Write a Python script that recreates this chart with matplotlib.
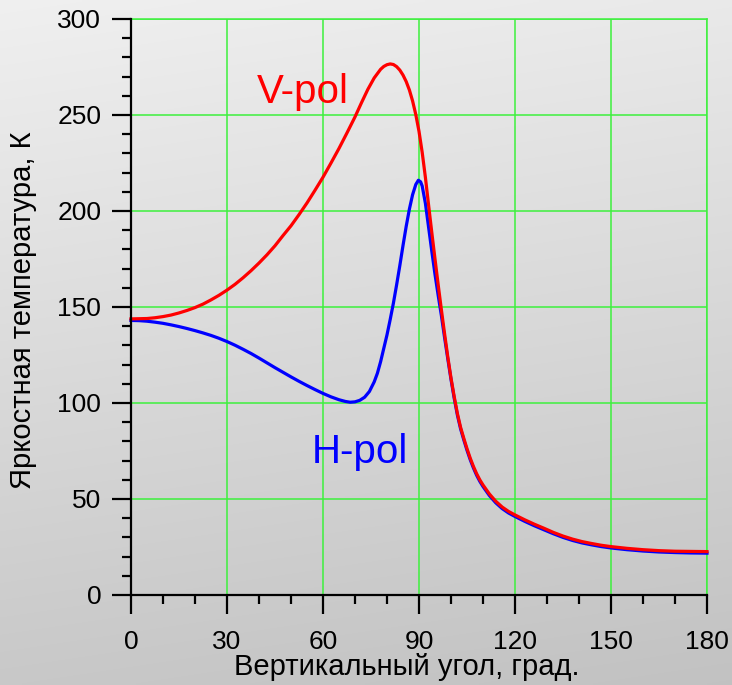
import numpy as np
import matplotlib
matplotlib.use("Agg")
import matplotlib.pyplot as plt
from matplotlib.ticker import MultipleLocator

plt.rcParams['font.family'] = ['Liberation Sans', 'DejaVu Sans']

# V-pol data (angle, brightness temperature)
v_angle = [0, 2.5, 5, 7.5, 10, 12.5, 15, 17.5, 20, 22.5, 25, 27.5, 30, 32.5, 35, 37.5, 40,
           42.5, 45, 47.5, 50, 52.5, 55, 57.5, 60, 62.5, 65, 67.5, 70, 72, 74, 76, 78, 79,
           80, 81, 82, 83, 84, 85, 86, 87, 88, 89, 90, 91, 92, 93, 94, 95, 96, 97, 98, 99,
           100, 101, 102, 103, 104, 105, 106, 107, 108, 109, 110, 112, 114, 116, 118, 120,
           123, 126, 129, 132, 135, 138, 141, 144, 147, 150, 155, 160, 165, 170, 175, 180]
v_temp = [143.8, 143.9, 144.0, 144.4, 145.0, 145.8, 146.9, 148.2, 149.7, 151.5, 153.7,
          156.1, 158.8, 161.8, 165.2, 168.9, 172.9, 177.2, 181.9, 187.2, 192.3, 198.1,
          204.2, 210.8, 217.6, 225.0, 232.6, 240.7, 249.0, 256.3, 263.3, 269.3, 273.8,
          275.3, 276.2, 276.6, 276.3, 275.2, 273.4, 270.8, 267.4, 263.0, 257.3, 250.2,
          241.5, 230.5, 217.5, 203.0, 188.8, 175.0, 161.5, 148.5, 136.0, 124.0, 113.0,
          103.3, 94.5, 87.3, 81.6, 76.2, 71.3, 67.0, 63.2, 60.0, 57.3, 52.6, 48.8, 45.8,
          43.5, 41.7, 39.2, 36.9, 34.8, 32.6, 30.7, 29.1, 27.8, 26.8, 25.9, 25.2, 24.3,
          23.6, 23.1, 22.8, 22.7, 22.6]

# H-pol data
h_angle = [0, 2.5, 5, 7.5, 10, 12.5, 15, 17.5, 20, 22.5, 25, 27.5, 30, 32.5, 35, 37.5, 40,
           42.5, 45, 47.5, 50, 52.5, 55, 57.5, 60, 62.5, 65, 67, 68.5, 70, 71.5, 73, 74.5,
           76, 77, 78, 79, 80, 81, 82, 83, 84, 85, 86, 87, 88, 89, 89.8, 90.5, 91, 92, 93,
           94, 95, 96, 97, 98, 99, 100, 101, 102, 103, 104, 105, 106, 107, 108, 109, 110,
           112, 114, 116, 118, 120, 123, 126, 129, 132, 135, 138, 141, 144, 147, 150, 155,
           160, 165, 170, 175, 180]
h_temp = [143.0, 142.9, 142.6, 142.1, 141.5, 140.7, 139.8, 138.8, 137.7, 136.5, 135.2,
          133.7, 132.0, 130.1, 128.0, 125.8, 123.4, 120.9, 118.4, 116.0, 113.6, 111.3,
          109.1, 107.0, 105.0, 103.2, 101.7, 100.8, 100.4, 100.6, 101.4, 103.0, 106.0,
          111.0, 115.5, 121.5, 128.5, 135.5, 143.5, 152.0, 161.5, 171.5, 182.0, 192.0,
          201.0, 208.5, 213.8, 216.0, 215.2, 213.0, 204.0, 191.5, 179.0, 167.0, 156.0,
          145.5, 134.0, 123.0, 112.3, 102.5, 93.7, 86.5, 80.8, 75.4, 70.5, 66.2, 62.4,
          59.2, 56.5, 51.8, 48.0, 45.0, 42.7, 40.9, 38.4, 36.1, 34.0, 31.9, 30.0, 28.4,
          27.1, 26.1, 25.2, 24.5, 23.6, 22.9, 22.4, 22.1, 21.9, 21.8]

x_major = [0, 30, 60, 90, 120, 150, 180]
y_major = [0, 50, 100, 150, 200, 250, 300]

fig = plt.figure(figsize=(7.32, 6.85), dpi=100)

# gradient background
bg = fig.add_axes([0, 0, 1, 1], zorder=-10)
yy, xx = np.mgrid[0:1:200j, 0:1:200j]
grad = 0.94 - 0.155 * yy - 0.025 * xx
bg.imshow(np.dstack([grad, grad, grad]), aspect='auto', extent=[0, 1, 0, 1],
          origin='upper', interpolation='bilinear')
bg.axis('off')

ax = fig.add_axes([131 / 732, 90 / 685, 576 / 732, 576 / 685])
ax.set_facecolor('none')

green = '#3df03d'
ax.set_xlim(0, 180)
ax.set_ylim(0, 300)
ax.set_xticks(x_major)
ax.set_yticks(y_major)
ax.xaxis.set_minor_locator(MultipleLocator(10))
ax.yaxis.set_minor_locator(MultipleLocator(10))
ax.grid(True, which='major', color=green, lw=1.1, zorder=0)

ax.plot(h_angle, h_temp, color='#0000ff', lw=2.3, zorder=3, clip_on=False,
        solid_joinstyle='round')
ax.plot(v_angle, v_temp, color='#ff0000', lw=2.3, zorder=4, clip_on=False,
        solid_joinstyle='round')

for s in ['top', 'right']:
    ax.spines[s].set_color(green)
    ax.spines[s].set_linewidth(1.1)
for s in ['left', 'bottom']:
    ax.spines[s].set_color('black')
    ax.spines[s].set_linewidth(1.6)
    ax.spines[s].set_zorder(5)

ax.tick_params(which='major', length=13.5, width=1.6, labelsize=19, color='black')
ax.tick_params(which='minor', length=6.5, width=1.6, color='black')
ax.tick_params(axis='y', which='major', pad=8)
ax.tick_params(axis='x', which='major', pad=12)

ax.set_xlabel('Вертикальный угол, град.', fontsize=21)
ax.xaxis.set_label_coords(0.478, -0.101)
ax.set_ylabel('Яркостная температура, К', fontsize=21)
ax.yaxis.set_label_coords(-0.163, 0.494)

ax.text(39.2, 256, 'V-pol', color='#ff0000', fontsize=29)
ax.text(56.5, 68.6, 'H-pol', color='#0000ff', fontsize=29)

fig.savefig('out.png', dpi=100)
